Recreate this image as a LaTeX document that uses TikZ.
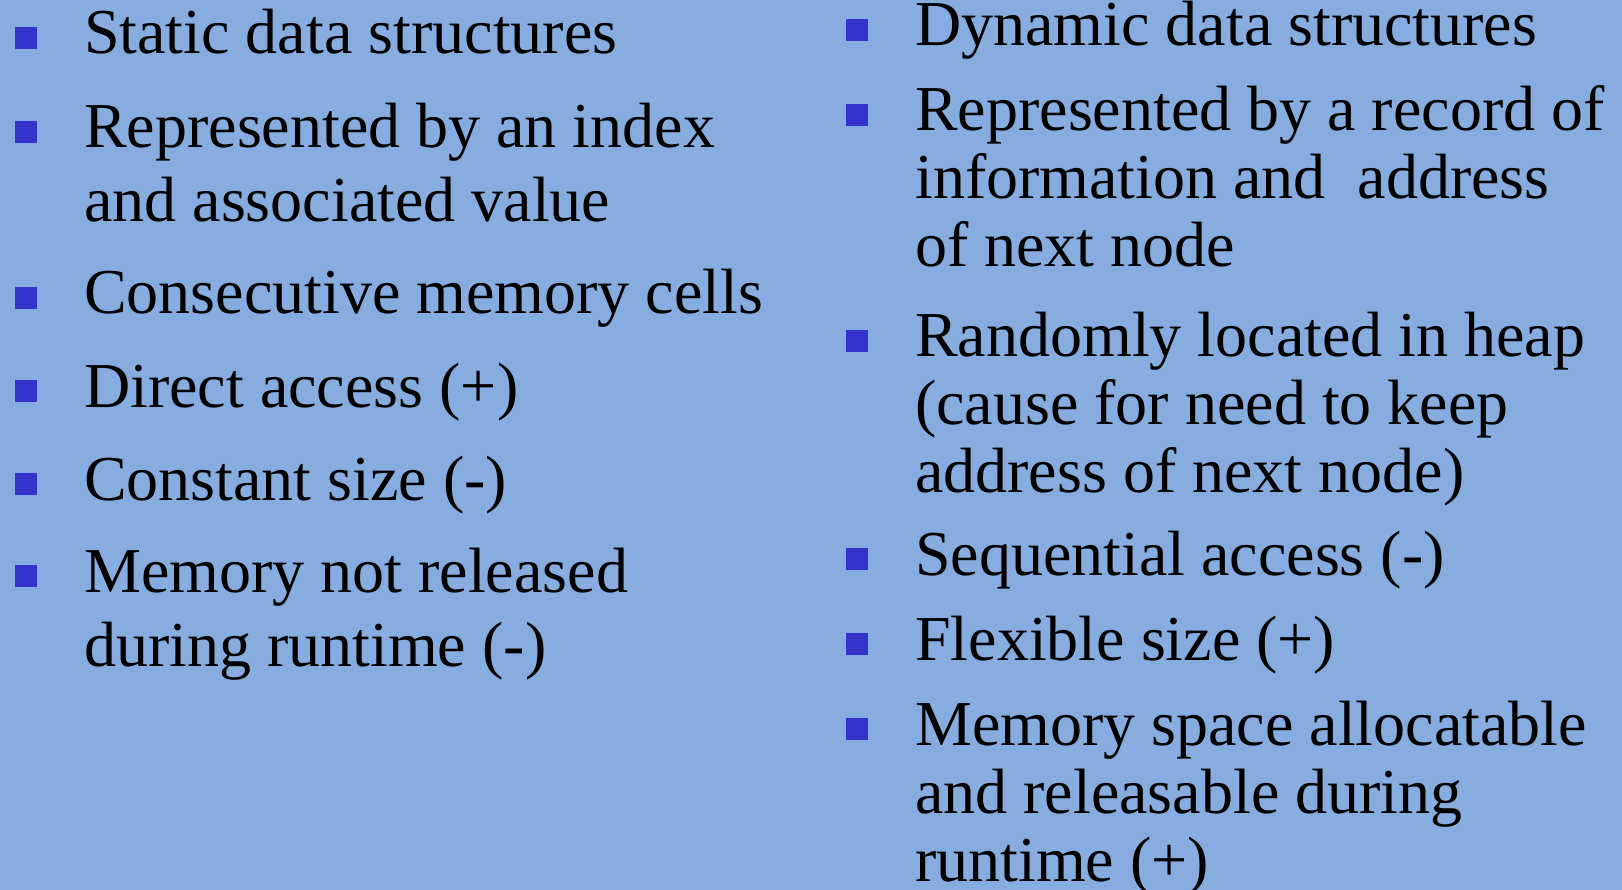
\documentclass[tikz,border=0pt]{standalone}
\usepackage{fontspec}
\setmainfont{Liberation Serif}
\newfontfamily\slidefont{Liberation Serif}
\usepackage{tikz}

\definecolor{slidebg}{RGB}{135,173,224}
\definecolor{bulletblue}{RGB}{51,51,204}

% lines of one item, aligned on the first baseline
\newcommand{\itemlines}[1]{\begin{tabular}[t]{@{}l@{}}#1\end{tabular}}

\tikzset{
  itemL/.style={anchor=base west, inner sep=0pt,
    font=\slidefont\fontsize{64}{74}\selectfont},
  itemR/.style={anchor=base west, inner sep=0pt,
    font=\slidefont\fontsize{64}{68}\selectfont},
  bul/.style={fill=bulletblue, minimum size=22pt, inner sep=0pt}
}

\begin{document}
\begin{tikzpicture}[x=1pt,y=-1pt]
\fill[slidebg] (0,0) rectangle (1622,890);
\useasboundingbox (0,0) rectangle (1622,890);

% static column
\node[itemL] (st1) at (84,54) {Static data structures};
\node[itemL] (st2) at (84,148) {\itemlines{Represented by an index\\and associated value}};
\node[itemL] (st3) at (84,314) {Consecutive memory cells};
\node[itemL] (st4) at (84,407) {Direct access (+)};
\node[itemL] (st5) at (84,500) {Constant size (-)};
\node[itemL] (st6) at (84,592) {\itemlines{Memory not released\\during runtime (-)}};

% dynamic column
\node[itemR] (dy1) at (915,46) {Dynamic data structures};
\node[itemR] (dy2) at (915,131) {\itemlines{Represented by a record of\\information and~ address\\of next node}};
\node[itemR] (dy3) at (915,357) {\itemlines{Randomly located in heap\\(cause for need to keep\\address of next node)}};
\node[itemR] (dy4) at (915,575) {Sequential access (-)};
\node[itemR] (dy5) at (915,660) {Flexible size (+)};
\node[itemR] (dy6) at (915,745) {\itemlines{Memory space allocatable\\and releasable during\\runtime (+)}};

% bullets
\foreach \n in {st1,st2,st3,st4,st5,st6}
  \node[bul] (b\n) at ([xshift=-58pt,yshift=16pt]\n.base west) {};
\foreach \n in {dy1,dy2,dy3,dy4,dy5,dy6}
  \node[bul] (b\n) at ([xshift=-58pt,yshift=16pt]\n.base west) {};
\end{tikzpicture}
\end{document}
